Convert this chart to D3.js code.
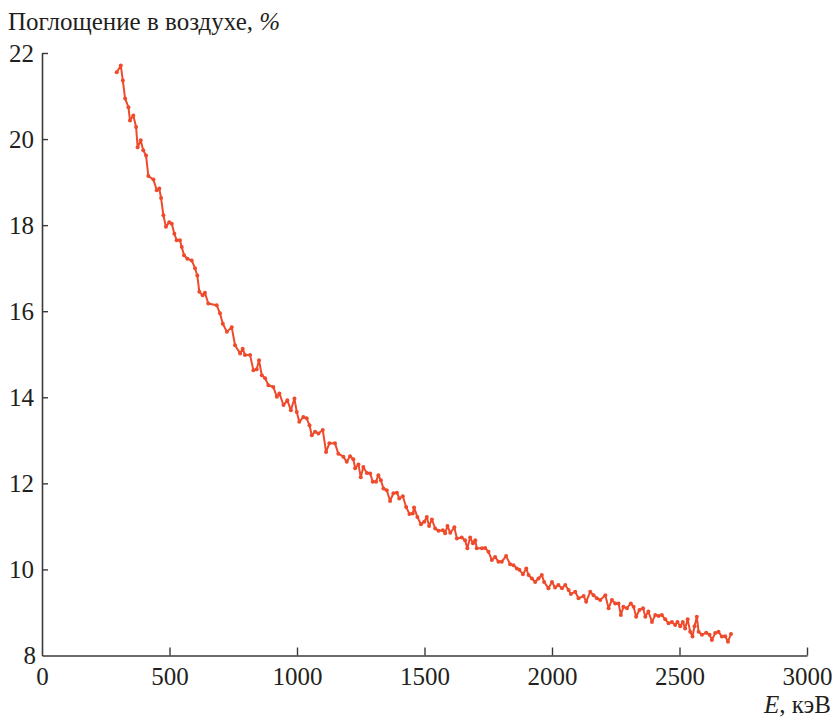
<!DOCTYPE html>
<html><head><meta charset="utf-8">
<script src="https://cdn.jsdelivr.net/npm/d3@7"></script>
<style>body{margin:0;background:#fff}svg{display:block}</style>
</head><body><svg id="c" width="836" height="719"></svg>
<script>
const energy = [293,309,317,326,339,345,358,369,375,387,397,408,417,437,450,460,467,476,486,499,509,519,528,541,548,557,570,587,600,609,617,630,639,652,
685,698,709,725,744,757,777,787,796,816,829,842,851,862,875,888,907,921,931,947,962,976,990,999,1009,1025,1038,1049,1058,1071,1084,1101,1114,1127,1149,1162,
1182,1195,1208,1221,1228,1241,1250,1260,1274,1287,1297,1310,1319,1329,1339,1352,1365,1378,1392,1401,1415,1428,1441,1454,1459,1472,1486,1499,1509,1518,1529,1542,1555,1572,1581,1590,1601,1617,1627,1646,1659,1668,1679,1690,1699,1705,1725,1738,
1751,1764,1777,1790,1803,1820,1836,1849,1862,1872,1886,1899,1908,1921,1934,1947,1960,1969,1986,2000,2012,2025,2039,2052,2065,2074,2091,2104,2124,2134,2150,2163,2176,2189,
2209,2222,2235,2248,2261,2270,2280,2294,2309,2320,2330,2343,2357,2366,2378,2392,2405,2418,2431,2444,2457,2470,2483,2492,2503,2513,2522,2532,2542,2551,2559,2568,2575,2588,2605,2618,2627,2640,2653,2666,2679,2690,2702];
const absorption = [21.55,21.71,21.36,20.94,20.74,20.43,20.55,20.28,19.81,19.97,19.74,19.62,19.14,19.06,18.81,18.85,18.63,18.23,17.96,18.07,18.03,17.80,17.65,17.65,17.49,17.30,17.22,17.18,17.00,16.83,16.45,16.37,16.43,16.18,
16.14,15.95,15.71,15.52,15.63,15.21,15.02,15.13,14.98,14.98,14.63,14.65,14.86,14.51,14.44,14.28,14.24,14.01,14.09,13.82,13.93,13.70,13.97,13.66,13.43,13.54,13.51,13.35,13.12,13.20,13.16,13.24,12.73,12.93,12.93,12.69,
12.62,12.50,12.63,12.56,12.35,12.44,12.14,12.38,12.24,12.23,12.04,12.04,12.19,12.07,11.88,11.84,11.59,11.77,11.78,11.65,11.70,11.45,11.29,11.30,11.44,11.22,11.05,11.11,11.22,11.01,11.16,10.95,10.90,10.91,10.84,11.01,10.85,10.98,10.72,10.74,10.68,10.49,10.74,10.61,10.68,10.49,10.49,10.50,
10.41,10.22,10.29,10.18,10.18,10.31,10.12,10.10,10.02,9.99,9.89,10.02,9.87,9.79,9.71,9.79,9.87,9.71,9.56,9.71,9.58,9.64,9.56,9.64,9.52,9.43,9.48,9.33,9.38,9.25,9.48,9.40,9.33,9.29,
9.40,9.10,9.29,9.21,9.21,8.94,9.13,9.10,9.21,9.13,8.90,9.06,9.10,8.90,9.02,8.78,8.94,8.92,8.94,8.84,8.75,8.78,8.71,8.78,8.68,8.78,8.63,8.84,8.55,8.44,8.68,8.90,8.55,8.48,8.53,8.48,8.36,8.52,8.55,8.44,8.45,8.32,8.50];
const xTicks = [0,500,1000,1500,2000,2500,3000];
const yTicks = [8,10,12,14,16,18,20,22];
const yTitle = "Поглощение в воздухе, ";
const xTitleUnit = ", кэВ";

const FONT = "'Liberation Serif', 'Times New Roman', Times, 'DejaVu Serif', 'Noto Serif', 'Noto Serif CJK SC', serif";
const svg = d3.select("#c");
const x = d3.scaleLinear().domain([0,3000]).range([42,807]);
const y = d3.scaleLinear().domain([8,22]).range([655.5,53]);
const axisColor = "#3a3a3a";

const gx = svg.append("g").attr("transform","translate(0,655.5)")
  .call(d3.axisBottom(x).tickValues(xTicks).tickFormat(d3.format("d")).tickSizeInner(-8).tickSizeOuter(0).tickPadding(12));
const gy = svg.append("g").attr("transform","translate(42,0)")
  .call(d3.axisLeft(y).tickValues(yTicks).tickFormat(d3.format("d")).tickSizeInner(-6).tickSizeOuter(0).tickPadding(8));
[gx,gy].forEach(g=>{
  g.attr("font-family",FONT).attr("font-size",25);
  g.select(".domain").attr("stroke",axisColor).attr("stroke-width",1.6);
  g.selectAll(".tick line").attr("stroke",axisColor).attr("stroke-width",1.4);
  g.selectAll(".tick text").attr("font-family",FONT).attr("font-size",25).attr("fill","#231f20");
});
gx.selectAll(".tick text").attr("dy","0.71em");
gy.selectAll(".tick").filter(d=>d===8).select("line").remove();
gx.selectAll(".tick").filter(d=>d===0).select("line").remove();
gy.selectAll(".tick").filter(d=>d===8).select("text").attr("x",-6).attr("dy","0.32em");
gx.selectAll(".tick").filter(d=>d===0).select("text").attr("y",12);

const data = energy.map((e,i)=>({e,v:absorption[i]}));
const col = "#ef4a2b";
svg.append("path").datum(data)
  .attr("d", d3.line().x(d=>x(d.e)).y(d=>y(d.v)))
  .attr("fill","none").attr("stroke",col).attr("stroke-width",2).attr("stroke-linejoin","round");
svg.append("g").selectAll("circle").data(data).join("circle")
  .attr("cx",d=>x(d.e)).attr("cy",d=>y(d.v)).attr("r",2).attr("fill",col);

const t = svg.append("text").attr("x",8).attr("y",30).attr("font-size",25)
  .attr("font-family",FONT).attr("fill","#231f20");
t.append("tspan").text(yTitle);
t.append("tspan").attr("font-style","italic").text("%");

const xl = svg.append("text").attr("x",831).attr("y",713).attr("font-size",25).attr("text-anchor","end")
  .attr("font-family",FONT).attr("fill","#231f20");
xl.append("tspan").attr("font-style","italic").text("E");
xl.append("tspan").text(xTitleUnit);
</script></body></html>
